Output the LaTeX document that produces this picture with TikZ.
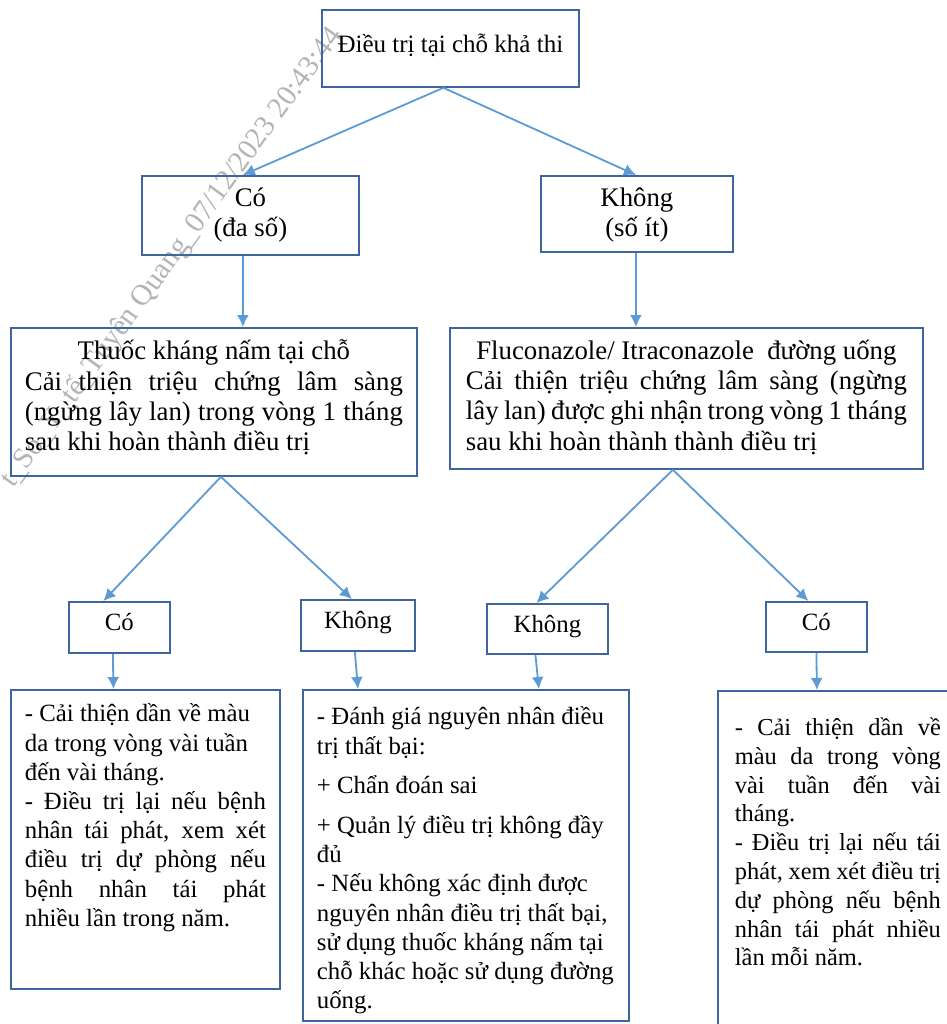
\documentclass[tikz,border=0pt]{standalone}
\usepackage{fontspec}
\usetikzlibrary{arrows.meta}
\setmainfont{Liberation Serif}
\definecolor{boxblue}{HTML}{3F659F}
\definecolor{arrowblue}{HTML}{5B9BD5}
\definecolor{wm}{HTML}{B4B4B4}
\newcommand\lineJ[1]{\makebox[\linewidth][s]{#1}}
\newcommand\lineN[1]{\mbox{#1}}
\newcommand\lineC[1]{\makebox[\linewidth][c]{#1}}
\newcommand\ftop{\fontsize{25}{30}\selectfont}
\newcommand\fbig{\fontsize{26.8}{30.3}\selectfont}
\newcommand\fsmall{\fontsize{24.8}{29.2}\selectfont}
\newcommand\fright{\fontsize{24.4}{28.8}\selectfont}
\tikzset{
  x=1pt,y=-1pt,
  box/.style={draw=boxblue,line width=1.8pt,rectangle,inner ysep=0pt,anchor=north west,fill=none},
  arr/.style={draw=arrowblue,line width=1.8pt,-{Latex[length=12pt,width=12pt]}},
  stamptext/.style={wm,rotate=54,anchor=east,font=\fontsize{29.4}{29.4}\selectfont}
}
\newcommand\tbox[8]{\node[box,inner xsep=#6pt] (#1) at (#2,#3)
  {\parbox[c][#5pt][t]{\dimexpr#4pt-#6pt-#6pt\relax}{\vspace*{#7pt}#8}};}
\begin{document}
\begin{tikzpicture}
\useasboundingbox (0,0) rectangle (946,1024);
\node[stamptext] (stamp) at (339,28) {t\_So\_Y\_tế\_Tuyên Quang\_07/12/2023 20:43:44};
\tbox{top}{321}{9}{257}{77}{8}{24}{\ftop\lineC{Điều trị tại chỗ khả thi}}
\tbox{yes}{141}{175}{217}{79}{8}{12}{\fbig\lineC{Có}\\\lineC{(đa số)}}
\tbox{no}{540}{175}{192}{76}{8}{12}{\fbig\lineC{Không}\\\lineC{(số ít)}}
\tbox{topical}{10}{327}{406}{148}{14}{12}{\fbig\lineC{Thuốc kháng nấm tại chỗ}\\\lineJ{Cải thiện triệu chứng lâm sàng}\\\lineJ{(ngừng lây lan) trong vòng 1 tháng}\\\lineN{sau khi hoàn thành điều trị}}
\tbox{oral}{449}{327}{473}{141}{16}{12}{\fbig\lineC{Fluconazole/ Itraconazole\ \ đường uống}\\\lineJ{Cải thiện triệu chứng lâm sàng (ngừng}\\\lineJ{lây lan) được ghi nhận trong vòng 1 tháng}\\\lineN{sau khi hoàn thành thành điều trị}}
\tbox{a}{68}{601}{101}{51}{6}{11}{\fsmall\lineC{Có}}
\tbox{b}{300}{599}{114}{51}{6}{11}{\fsmall\lineC{Không}}
\tbox{c}{486}{603}{121}{50}{6}{11}{\fsmall\lineC{Không}}
\tbox{d}{765}{601}{101}{50}{6}{11}{\fsmall\lineC{Có}}
\tbox{ra}{10}{689}{269}{299}{14}{14}{\fsmall\lineN{- Cải thiện dần về màu}\\\lineN{da trong vòng vài tuần}\\\lineN{đến vài tháng.}\\\lineJ{- Điều trị lại nếu bệnh}\\\lineJ{nhân tái phát, xem xét}\\\lineJ{điều trị dự phòng nếu}\\\lineJ{bệnh nhân tái phát}\\\lineN{nhiều lần trong năm.}}
\tbox{rb}{302}{689}{326}{331}{14}{17}{\fsmall\lineN{- Đánh giá nguyên nhân điều}\\\lineN{trị thất bại:}\\[10pt]\lineN{+ Chẩn đoán sai}\\[11pt]\lineN{+ Quản lý điều trị không đầy}\\\lineN{đủ}\\\lineN{- Nếu không xác định được}\\\lineN{nguyên nhân điều trị thất bại,}\\\lineN{sử dụng thuốc kháng nấm tại}\\\lineN{chỗ khác hoặc sử dụng đường}\\\lineN{uống.}}
\tbox{rd}{717}{690}{240}{345}{17}{27}{\fright\lineJ{- Cải thiện dần về}\\\lineJ{màu da trong vòng}\\\lineJ{vài tuần đến vài}\\\lineN{tháng.}\\\lineJ{- Điều trị lại nếu tái}\\\lineJ{phát, xem xét điều trị}\\\lineJ{dự phòng nếu bệnh}\\\lineJ{nhân tái phát nhiều}\\\lineN{lần mỗi năm.}}
\draw[arr] ([xshift=-7pt]top.south) -- ([xshift=-7.5pt]yes.north);
\draw[arr] ([xshift=-7pt]top.south) -- ([xshift=-1pt]no.north);
\draw[arr] ([xshift=-7.5pt]yes.south) -- ([xshift=29pt]topical.north);
\draw[arr] ([xshift=-1pt]no.south) -- ([xshift=-50.5pt]oral.north);
\draw[arr] ([xshift=7pt]topical.south) -- ([xshift=-16pt]a.north);
\draw[arr] ([xshift=7pt]topical.south) -- ([xshift=-6pt]b.north);
\draw[arr] ([xshift=-13.5pt]oral.south) -- ([xshift=-11pt]c.north);
\draw[arr] ([xshift=-13.5pt]oral.south) -- ([xshift=-8pt]d.north);
\draw[arr] ([xshift=-6.5pt]a.south) -- ([xshift=-32pt]ra.north);
\draw[arr] ([xshift=-3pt]b.south) -- ([xshift=-108pt]rb.north);
\draw[arr] ([xshift=-12pt]c.south) -- ([xshift=73pt]rb.north);
\draw[arr] ([xshift=0pt]d.south) -- ([xshift=-21pt]rd.north);
\end{tikzpicture}
\end{document}
